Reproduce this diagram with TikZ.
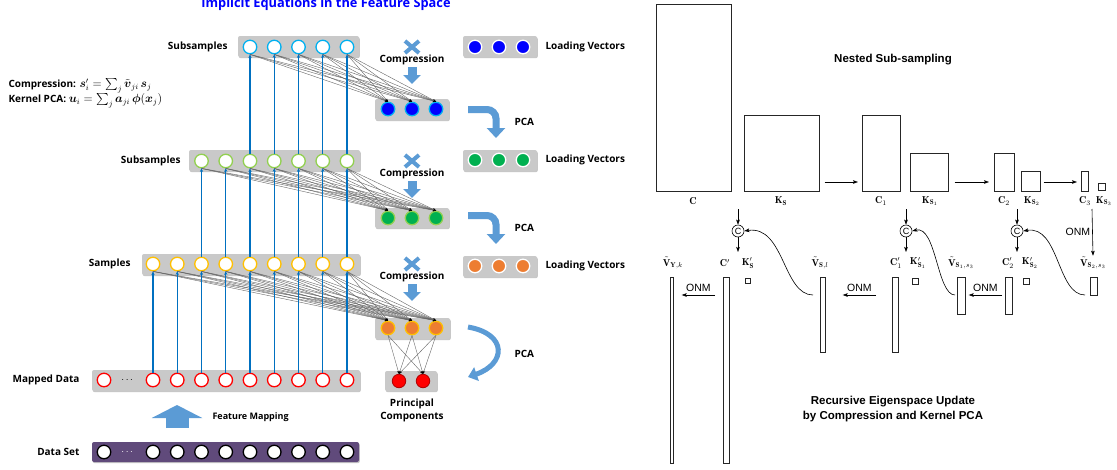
\documentclass[tikz,border=0pt]{standalone}
\usepackage{amsmath}
\usepackage{fontspec}
\usepackage{tikz}
\usetikzlibrary{arrows.meta,calc}

\newfontfamily\labfont{Open Sans}
\newfontfamily\helvfont{Liberation Sans}

\definecolor{arrblue}{HTML}{5B9BD5}
\definecolor{lineblue}{HTML}{0070C0}
\definecolor{cyanring}{HTML}{00B0F0}
\definecolor{greenring}{HTML}{92D050}
\definecolor{greenfill}{HTML}{00B050}
\definecolor{yellowring}{HTML}{FFC000}
\definecolor{orangefill}{HTML}{ED7D31}
\definecolor{barpurple}{HTML}{604A7B}
\definecolor{bargray}{HTML}{C9C9C9}

\begin{document}
\begin{tikzpicture}[x=1pt,y=-1pt,
  bar/.style={fill=bargray,rounded corners=2pt,
    preaction={fill=black!22,transform canvas={shift={(0.8pt,-1.2pt)}}}},
  unit/.style={circle,draw,line width=1.3pt,minimum size=13.5pt,inner sep=0pt,fill=white},
  lab/.style={font=\labfont\bfseries\fontsize{10}{12}\selectfont},
  fan/.style={draw=black!60,line width=0.4pt,-{Stealth[length=3pt,width=2.4pt,black]}},
  feed/.style={draw=lineblue,line width=1.1pt,-{Stealth[length=3.5pt,width=3.2pt]}},
  cmpx/.style={draw=arrblue,line width=4pt},
  blockdown/.style={draw=arrblue,line width=9pt,-{Triangle[width=17pt,length=9pt]}},
  pca/.style={draw=arrblue,line width=7pt,-{Triangle[width=18pt,length=10pt]}},
  mat/.style={draw=black!85,line width=0.7pt,inner sep=0pt},
  mlab/.style={font=\fontsize{10}{12}\selectfont,inner sep=1pt},
  arr/.style={line width=0.6pt,-{Stealth[length=5pt,width=3.6pt,inset=1pt]}},
  comb/.style={circle,draw,line width=0.6pt,inner sep=0pt,minimum size=12pt,
    font=\helvfont\fontsize{9}{9}\selectfont},
  onm/.style={font=\helvfont\fontsize{10.5}{12}\selectfont,inner sep=1pt},
  heading/.style={font=\helvfont\bfseries\fontsize{11.5}{15}\selectfont,align=center}]
  \useasboundingbox (0,0) rectangle (1117,469);
  \fill[white] (0,0) rectangle (1117,469);

  % ---- left: feature space ----
  \node[font=\labfont\bfseries\fontsize{12.8}{14}\selectfont,text=blue] (title) at (326,4)
    {Implicit Equations in the Feature Space};
  \node[anchor=west,align=left,font=\labfont\bfseries\fontsize{10}{15}\selectfont] (eqs) at (5,93.5)
    {Compression: {\fontsize{11.5}{15}\selectfont$\boldsymbol{s}'_i=\sum_j\tilde{\boldsymbol{v}}_{ji}\,\boldsymbol{s}_j$}\\
     Kernel PCA: {\fontsize{11.5}{15}\selectfont$\boldsymbol{u}_i=\sum_j\boldsymbol{a}_{ji}\,\boldsymbol{\phi}(\boldsymbol{x}_j)$}};

  % top subsamples
  \path[bar] (238,36) rectangle (359,57);
  \path[bar] (375,99) rectangle (449,120);
  \path[bar] (463,36) rectangle (537,57);
  \node[lab,anchor=east] (subA) at (231,47) {Subsamples};
  \foreach \k in {1,...,5}
    \node[unit,draw=cyanring] (ta\k) at ({153+24.25*(\k+3)},47) {};
  \foreach \k in {1,2,3}{
    \node[unit,draw=cyanring,fill=blue] (oa\k) at ({364+24*\k},109) {};
    \node[unit,draw=white,fill=blue] (la\k) at ({451+24*\k},47) {};}
  \node[lab,anchor=west] (loadA) at (542,47) {Loading Vectors};
  \draw[cmpx] (405,41) -- (419,53) (405,53) -- (419,41);
  \node[lab] (compA) at (412,60) {Compression};
  \draw[blockdown] (412,67) -- (412,84);
  \draw[pca,rounded corners=9pt] (468,109.5) -- (496,109.5) -- (496,138);
  \node[lab,anchor=west] (pcaA) at (511,122) {PCA};

  % middle subsamples
  \path[bar] (189,150) rectangle (360,171);
  \path[bar] (375,208) rectangle (449,228);
  \path[bar] (463,150) rectangle (537,171);
  \node[lab,anchor=east] (subB) at (184,161) {Subsamples};
  \foreach \k in {1,...,7}
    \node[unit,draw=greenring] (tb\k) at ({153+24.25*(\k+1)},161) {};
  \foreach \k in {1,2,3}{
    \node[unit,draw=greenring,fill=greenfill] (ob\k) at ({364+24*\k},218) {};
    \node[unit,draw=white,fill=greenfill] (lb\k) at ({451+24*\k},160) {};}
  \node[lab,anchor=west] (loadB) at (542,160) {Loading Vectors};
  \draw[cmpx] (405,155) -- (419,167) (405,167) -- (419,155);
  \node[lab] (compB) at (412,174) {Compression};
  \draw[blockdown] (412,181) -- (412,198);
  \draw[pca,rounded corners=9pt] (468,215.5) -- (496,215.5) -- (496,244);
  \node[lab,anchor=west] (pcaB) at (511,228) {PCA};

  % samples
  \path[bar] (142,254) rectangle (360,275);
  \path[bar] (375,318) rectangle (450,339);
  \path[bar] (463,256) rectangle (537,277);
  \node[lab,anchor=east] (samp) at (134,264) {Samples};
  \foreach \k in {1,...,9}
    \node[unit,draw=yellowring] (s\k) at ({153+24.25*(\k-1)},264) {};
  \foreach \k in {1,2,3}{
    \node[unit,draw=yellowring,fill=orangefill] (oc\k) at ({364+24*\k},328) {};
    \node[unit,draw=white,fill=orangefill] (lc\k) at ({451+24*\k},266) {};}
  \node[lab,anchor=west] (loadC) at (542,266) {Loading Vectors};
  \draw[cmpx] (405,258) -- (419,270) (405,270) -- (419,258);
  \node[lab] (compC) at (412,277) {Compression};
  \draw[blockdown] (412,284) -- (412,301);
  \draw[pca,line width=5pt,-{Triangle[width=14pt,length=9pt]}] (468,327) .. controls (508,334) and (506,364) .. (468,377);
  \node[lab,anchor=west] (pcaC) at (511,354) {PCA};

  % principal components
  \path[bar] (385,371) rectangle (437,391);
  \node[unit,draw=red!70!black,fill=red,line width=0.8pt] (p1) at (399,381) {};
  \node[unit,draw=red!70!black,fill=red,line width=0.8pt] (p2) at (423,381) {};
  \node[lab,align=center,font=\labfont\bfseries\fontsize{10}{13}\selectfont] (pclab) at (412,410) {Principal\\Components};

  % mapped data
  \path[bar] (92,370) rectangle (360,391);
  \node[lab,anchor=east] (mapl) at (83,380) {Mapped Data};
  \node[unit,draw=red] (m0) at (104,380) {};
  \node (mdots) at (128,380) {$\cdots$};
  \foreach \k in {1,...,9}
    \node[unit,draw=red] (m\k) at ({153+24.25*(\k-1)},380) {};

  \draw[draw=arrblue,line width=23pt,-{Triangle[width=50pt,length=13pt]}] (177,428) -- (177,405);
  \node[anchor=west,font=\labfont\bfseries\fontsize{9}{11}\selectfont] (fmap) at (209,417) {Feature Mapping};

  % data set
  \path[bar,fill=barpurple] (92,442) rectangle (359,462);
  \node[lab,anchor=east] (datl) at (83,452) {Data Set};
  \node[unit,draw=black] (d0) at (104,452) {};
  \node[text=white] (ddots) at (128,452) {$\cdots$};
  \foreach \k in {1,...,9}
    \node[unit,draw=black] (d\k) at ({153+24.25*(\k-1)},452) {};

  % connections
  \foreach \i in {1,...,5}
    \foreach \j in {1,2,3}
      \draw[fan] (ta\i.south) -- (oa\j.north);
  \foreach \i in {1,...,7}
    \foreach \j in {1,2,3}
      \draw[fan] (tb\i.south) -- (ob\j.north);
  \foreach \i in {1,...,9}
    \foreach \j in {1,2,3}
      \draw[fan] (s\i.south) -- (oc\j.north);
  \foreach \i in {1,2,3}
    \foreach \j in {1,2}
      \draw[fan] (oc\i.south) -- (p\j.north);
  \foreach \k in {1,...,9}
    \draw[feed] (m\k.north) -- (s\k.south);
  \foreach \k [count=\n from 3] in {1,...,7}
    \draw[feed] (s\n.north) -- (tb\k.south);
  \foreach \k [count=\n from 3] in {1,...,5}
    \draw[feed] (tb\n.north) -- (ta\k.south);

  % ---- right: nested sub-sampling ----
  \node[heading] (nested) at (893,60) {Nested Sub-sampling};
  \node[mat,minimum width=75pt,minimum height=187pt,anchor=south west] (C) at (656,192) {};
  \node[mat,minimum width=75pt,minimum height=76pt,anchor=south west] (KS) at (744,192) {};
  \node[mat,minimum width=38pt,minimum height=76pt,anchor=south west] (C1) at (862,192) {};
  \node[mat,minimum width=38pt,minimum height=38pt,anchor=south west] (KS1) at (910,192) {};
  \node[mat,minimum width=20pt,minimum height=38pt,anchor=south west] (C2) at (994,192) {};
  \node[mat,minimum width=19pt,minimum height=20pt,anchor=south west] (KS2) at (1021,192) {};
  \node[mat,minimum width=7pt,minimum height=20pt,anchor=south west] (C3) at (1081,192) {};
  \node[mat,minimum width=7pt,minimum height=7pt,anchor=south west] (KS3) at (1098,191) {};
  \node[mlab] (lC) at (693,201) {$\mathbf{C}$};
  \node[mlab] (lKS) at (781,201) {$\mathbf{K}_{\mathbf{S}}$};
  \node[mlab] (lC1) at (881,201) {$\mathbf{C}_1$};
  \node[mlab] (lKS1) at (930,201) {$\mathbf{K}_{\mathbf{S}_1}$};
  \node[mlab] (lC2) at (1004,201) {$\mathbf{C}_2$};
  \node[mlab] (lKS2) at (1032,201) {$\mathbf{K}_{\mathbf{S}_2}$};
  \node[mlab] (lC3) at (1085,201) {$\mathbf{C}_3$};
  \node[mlab] (lKS3) at (1104,201) {$\mathbf{K}_{\mathbf{S}_3}$};
  \draw[arr] ($(KS.south east)+(5,-10)$) -- ($(C1.south west)+(-4,-10)$);
  \draw[arr] ($(KS1.south east)+(6,-10)$) -- ($(C2.south west)+(-5,-10)$);
  \draw[arr] ($(KS2.south east)+(3,-10)$) -- ($(C3.south west)+(-4,-10)$);

  % compression and eigenspace update
  \node[comb] (cc1) at (738,231) {C};
  \node[comb] (cc2) at (906,231) {C};
  \node[comb] (cc3) at (1017,231) {C};
  \coordinate (in1) at (738,209);
  \coordinate (in2) at (906,209);
  \coordinate (in3) at (1017,209);
  \coordinate (out1) at (738,252);
  \coordinate (out2) at (906,252);
  \coordinate (out3) at (1017,252);
  \foreach \k in {1,2,3}{
    \draw[arr] (in\k) -- (cc\k);
    \draw[arr] (cc\k) -- (out\k);}

  \node[mat,minimum width=3pt,minimum height=186pt,anchor=north west] (VY) at (670,277) {};
  \node[mat,minimum width=6pt,minimum height=186pt,anchor=north west] (Cp) at (723,277) {};
  \node[mat,minimum width=5pt,minimum height=5pt,anchor=north west] (KpS) at (745,278) {};
  \node[mat,minimum width=5pt,minimum height=75pt,anchor=north west] (VSl) at (820,277) {};
  \node[mat,minimum width=6pt,minimum height=75pt,anchor=north west] (Cp1) at (892,277) {};
  \node[mat,minimum width=6pt,minimum height=6pt,anchor=north west] (KpS1) at (912,278) {};
  \node[mat,minimum width=8pt,minimum height=37pt,anchor=north west] (VS1) at (957,277) {};
  \node[mat,minimum width=7pt,minimum height=37pt,anchor=north west] (Cp2) at (1005,277) {};
  \node[mat,minimum width=6pt,minimum height=6pt,anchor=north west] (KpS2) at (1023,278) {};
  \node[mat,minimum width=7pt,minimum height=18pt,anchor=north west] (VS2) at (1090,277) {};
  \node[mlab] (lVY) at (673,263) {$\tilde{\mathbf{V}}_{\mathbf{Y},k}$};
  \node[mlab] (lCp) at (725,263) {$\mathbf{C}'$};
  \node[mlab] (lKpS) at (748,263) {$\mathbf{K}'_{\mathbf{S}}$};
  \node[mlab] (lVSl) at (820,263) {$\tilde{\mathbf{V}}_{\mathbf{S},l}$};
  \node[mlab] (lCp1) at (896,263) {$\mathbf{C}'_1$};
  \node[mlab] (lKpS1) at (918,263) {$\mathbf{K}'_{\mathbf{S}_1}$};
  \node[mlab] (lVS1) at (961,263) {$\tilde{\mathbf{V}}_{\mathbf{S}_1,s_3}$};
  \node[mlab] (lCp2) at (1008,263) {$\mathbf{C}'_2$};
  \node[mlab] (lKpS2) at (1030,263) {$\mathbf{K}'_{\mathbf{S}_2}$};
  \node[mlab] (lVS2) at (1093,263) {$\tilde{\mathbf{V}}_{\mathbf{S}_2,s_3}$};

  \draw[arr] ($(Cp.north west)+(-8,18)$) -- ($(VY.north east)+(8,18)$)
    node[midway,above=2pt,onm] {ONM};
  \draw[arr] ($(Cp1.north west)+(-16,18)$) -- ($(VSl.north east)+(17,18)$)
    node[midway,above=2pt,onm] {ONM};
  \draw[arr] ($(Cp2.north west)+(-3,18)$) -- ($(VS1.north east)+(3,18)$)
    node[midway,above=2pt,onm] {ONM};
  \coordinate (onmtop) at (1092,209);
  \draw[arr] (onmtop) -- (lVS2.north) node[midway,left=1pt,onm] {ONM};

  \draw[arr] ($(VSl.north west)+(-7,18)$) .. controls +(-30,0) and +(40,-6) .. (cc1.east);
  \draw[arr] ($(VS1.north west)+(-2,18)$) .. controls +(-18,0) and +(24,-6) .. (cc2.east);
  \draw[arr] ($(VS2.north west)+(-5,18)$) .. controls +(-28,0) and +(36,-6) .. (cc3.east);

  \node[heading] (recursive) at (893,409.5) {Recursive Eigenspace Update\\by Compression and Kernel PCA};
\end{tikzpicture}
\end{document}
